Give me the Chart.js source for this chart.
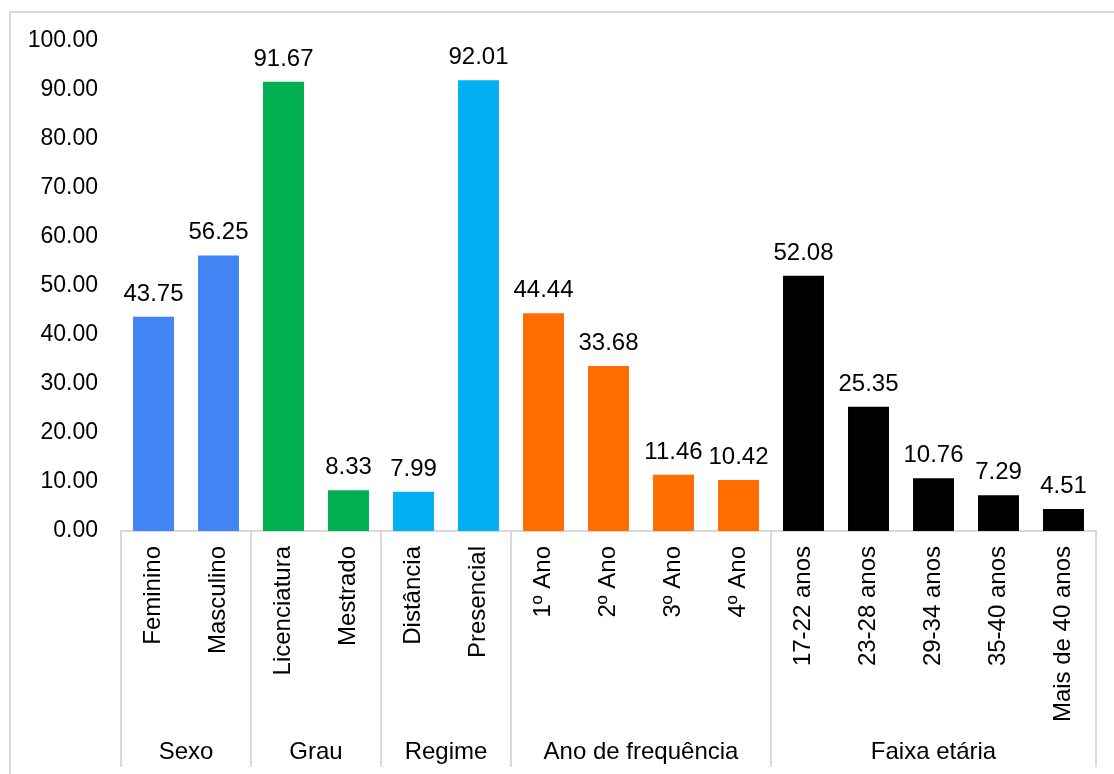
<!DOCTYPE html>
<html>
<head>
<meta charset="utf-8">
<script src="https://cdn.jsdelivr.net/npm/chart.js@4"></script>
<style>
  body { margin: 0; background: #ffffff; }
  #wrap { width: 1114px; height: 774px; position: relative; }
</style>
</head>
<body>
<div id="wrap"><canvas id="surveyChart"></canvas></div>
<script>
// categories and values
let categoryLabels = ["Feminino", "Masculino", "Licenciatura", "Mestrado", "Distância", "Presencial",
  "1º Ano", "2º Ano", "3º Ano", "4º Ano",
  "17-22 anos", "23-28 anos", "29-34 anos", "35-40 anos", "Mais de 40 anos"];
let percentValues = [43.75, 56.25, 91.67, 8.33, 7.99, 92.01, 44.44, 33.68, 11.46, 10.42, 52.08, 25.35, 10.76, 7.29, 4.51];

// groups shown under the category labels (name, first index, last index)
let groupNames = ["Sexo", "Grau", "Regime", "Ano de frequência", "Faixa etária"];
let groupStart = [0, 2, 4, 6, 10];
let groupEnd = [1, 3, 5, 9, 14];
let groupColors = ["#4285f4", "#00b050", "#00b0f0", "#ff6d01", "#000000"];

// y axis ticks
let yMin = 0;
let yMax = 100;
let yStep = 10;

// colour of every bar comes from its group
let barColors = categoryLabels.map(function (label, i) {
  let g = groupStart.findIndex(function (s, k) { return i >= s && i <= groupEnd[k]; });
  return groupColors[g];
});

const fontFamily = "'Liberation Sans', Arial, sans-serif";
const lineGrey = "#d9d9d9";

// frame, separators and group names
const extrasPlugin = {
  id: "extras",
  beforeDraw(chart) {
    let ctx = chart.ctx;
    ctx.save();
    ctx.strokeStyle = lineGrey;
    ctx.lineWidth = 2;
    ctx.beginPath();
    ctx.moveTo(10, chart.height);
    ctx.lineTo(10, 12);
    ctx.lineTo(chart.width, 12);
    ctx.stroke();
    ctx.restore();
  },
  afterDraw(chart) {
    let ctx = chart.ctx;
    let x = chart.scales.x;
    let area = chart.chartArea;
    let half = (x.getPixelForValue(1) - x.getPixelForValue(0)) / 2;
    ctx.save();
    ctx.strokeStyle = lineGrey;
    ctx.lineWidth = 2;
    let bounds = [area.left];
    groupEnd.forEach(function (e) { bounds.push(x.getPixelForValue(e) + half); });
    bounds.forEach(function (bx) {
      ctx.beginPath();
      ctx.moveTo(bx, area.bottom);
      ctx.lineTo(bx, 767);
      ctx.stroke();
    });
    ctx.fillStyle = "#000000";
    ctx.font = "24px " + fontFamily;
    ctx.textAlign = "center";
    ctx.textBaseline = "middle";
    groupNames.forEach(function (name, k) {
      let cx = (x.getPixelForValue(groupStart[k]) + x.getPixelForValue(groupEnd[k])) / 2;
      ctx.fillText(name, cx, 752);
    });
    // value labels above the bars
    let meta = chart.getDatasetMeta(0);
    ctx.textBaseline = "alphabetic";
    meta.data.forEach(function (bar, i) {
      ctx.fillText(percentValues[i].toFixed(2), bar.x, bar.y - 16);
    });
    ctx.restore();
  }
};

let canvasElement = document.getElementById("surveyChart");
let drawingArea = canvasElement.getContext("2d");

let surveyChart = new Chart(drawingArea, {
  type: "bar",
  data: {
    labels: categoryLabels,
    datasets: [{
      data: percentValues,
      backgroundColor: barColors,
      borderWidth: 0,
      barPercentage: 0.63,
      categoryPercentage: 1.0
    }]
  },
  options: {
    responsive: true,
    maintainAspectRatio: false,
    animation: false,
    layout: { padding: { left: 0, top: 41, right: 18, bottom: 0 } },
    plugins: {
      legend: { display: false },
      tooltip: { enabled: false }
    },
    scales: {
      x: {
        grid: { display: false, drawTicks: false },
        border: { display: true, color: lineGrey, width: 2 },
        ticks: {
          autoSkip: false,
          minRotation: 90,
          maxRotation: 90,
          padding: 15,
          color: "#000000",
          font: { family: fontFamily, size: 24 }
        },
        afterFit(scale) { scale.height = 243; }
      },
      y: {
        min: yMin,
        max: yMax,
        grid: { display: false, drawTicks: false },
        border: { display: false },
        ticks: {
          stepSize: yStep,
          padding: 23,
          color: "#000000",
          font: { family: fontFamily, size: 23 },
          callback: function (value) { return value.toFixed(2); }
        },
        afterFit(scale) { scale.width = 121; }
      }
    }
  },
  plugins: [extrasPlugin]
});
</script>
</body>
</html>
